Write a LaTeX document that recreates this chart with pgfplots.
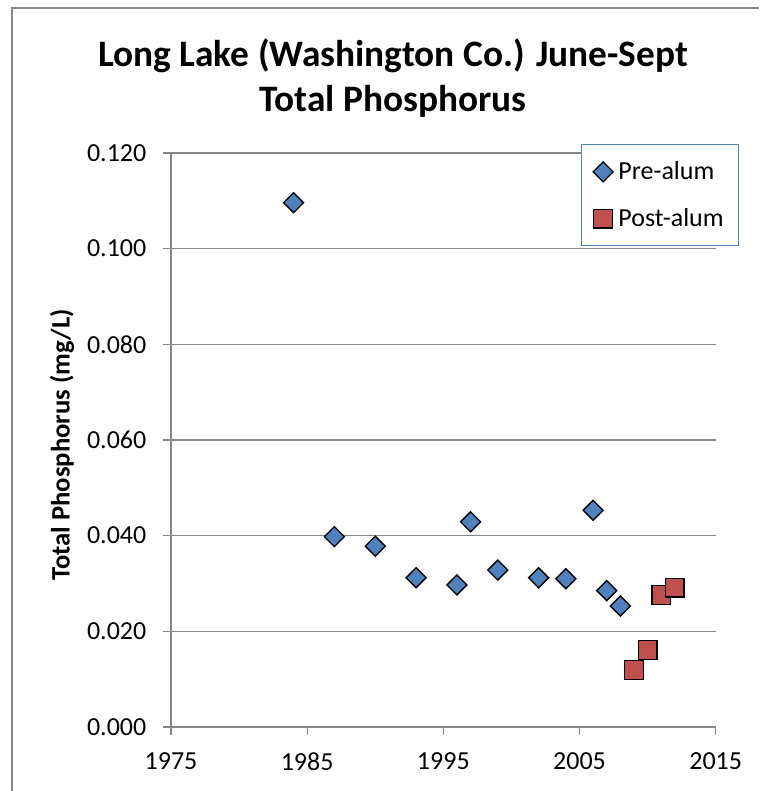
\documentclass[border=0pt]{standalone}
\usepackage{fontspec}
\setmainfont{Carlito}
\usepackage{pgfplots}
\pgfplotsset{compat=1.18}
\definecolor{xlblue}{HTML}{4F81BD}
\definecolor{xlred}{HTML}{C0504D}
\definecolor{xlgrid}{HTML}{868686}
\newcommand{\tickfont}{\fontsize{19.5}{23}\selectfont}

\begin{document}
\begin{tikzpicture}[x=1pt,y=1pt]
% page frame (the chart area is cropped at the right and bottom)
\useasboundingbox (0,0) rectangle (570,593.25);
\draw[xlgrid, line width=1.1pt] (9,0) -- (9,587.25) -- (569,587.25);
\begin{axis}[
  at={(128.25pt,48pt)}, anchor=south west,
  width=408.5pt, height=430.5pt, scale only axis,
  xmin=1975, xmax=2015, ymin=0, ymax=0.12,
  xtick={1975,1985,...,2015},
  ytick={0,0.02,0.04,0.06,0.08,0.1,0.12},
  axis x line*=bottom, axis y line*=left,
  xtick align=outside, ytick align=outside, major tick length=6pt,
  axis line style={xlgrid, line width=0.9pt},
  tick style={xlgrid, line width=0.9pt},
  ymajorgrids, grid style={xlgrid, line width=0.9pt},
  ticklabel style={font=\tickfont},
  /pgf/number format/assume math mode=true,
  yticklabel style={xshift=-9pt, /pgf/number format/.cd, fixed, fixed zerofill, precision=3},
  xticklabel style={yshift=-10pt, /pgf/number format/1000 sep={}},
  legend cell align=left,
  legend style={at={(axis description cs:0.752,1.0157)}, anchor=north west,
    draw=xlblue, line width=0.8pt, font=\tickfont,
    inner xsep=9pt, inner ysep=11pt, row sep=16pt,
    /tikz/every odd column/.append style={column sep=2pt}},
  clip=false,
]
% pre-alum
\addplot[only marks, mark=square*, mark size=5.3pt,
  mark options={rotate=45, fill=xlblue, draw=black, line width=1pt}]
  coordinates {
  (1984,0.1096) (1987,0.0398) (1990,0.0378) (1993,0.0312)
  (1996,0.0297) (1997,0.0429) (1999,0.0328) (2002,0.0312)
  (2004,0.0310) (2006,0.0453) (2007,0.0285) (2008,0.0253)
  };
\addlegendentry{Pre-alum}
% post-alum
\addplot[only marks, mark=square*, mark size=7pt,
  mark options={fill=xlred, draw=black, line width=1pt}]
  coordinates {
  (2009,0.0119) (2010,0.0161) (2011,0.0276) (2012,0.0291)
  };
\addlegendentry{Post-alum}
\end{axis}
% title and y label
\node[align=center, font=\fontsize{28}{33.75}\selectfont\bfseries]
  at (294.75,535) {Long Lake (Washington Co.) June-Sept\\Total Phosphorus};
\node[rotate=90, font=\fontsize{20}{24}\selectfont\bfseries] at (46.5,259.5)
  {Total Phosphorus (mg/L)};
\end{tikzpicture}
\end{document}
